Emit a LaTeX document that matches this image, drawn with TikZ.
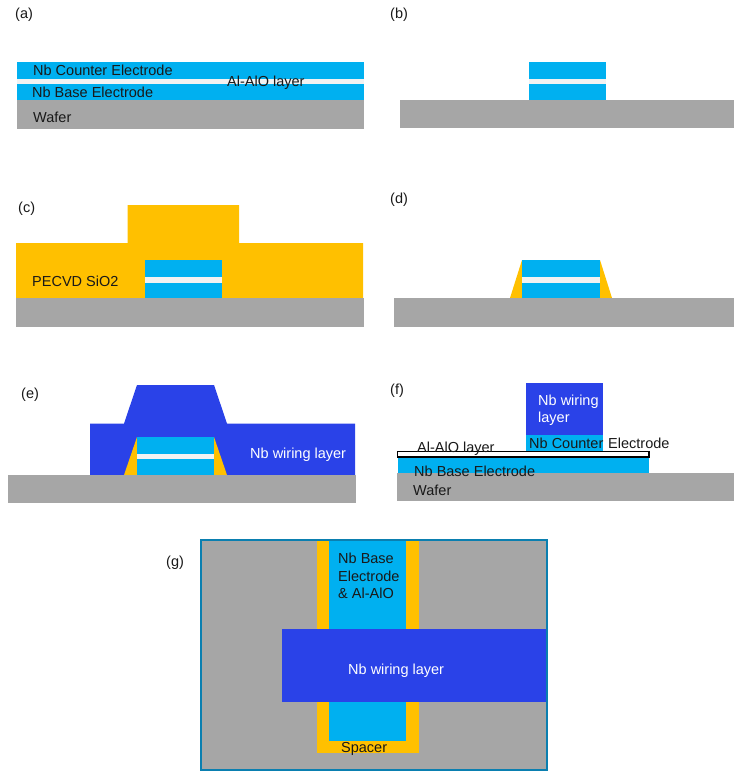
\documentclass[tikz,border=0pt]{standalone}
\usepackage{fontspec}
\setmainfont{Liberation Sans}
\definecolor{nbblue}{HTML}{00B0F0}
\definecolor{waferg}{HTML}{A6A6A6}
\definecolor{sioorange}{HTML}{FFC000}
\definecolor{wiring}{HTML}{2A42E8}
\definecolor{aloxw}{HTML}{F2F2F2}
\definecolor{edgeb}{HTML}{0A7FB0}
\tikzset{
  nb/.style={fill=nbblue},
  wafer/.style={fill=waferg},
  sio/.style={fill=sioorange},
  wire/.style={fill=wiring},
  alox/.style={fill=aloxw},
  lab/.style={anchor=base west, inner sep=0pt, font=\fontsize{14.5}{14.5}\selectfont, text=black!90},
  wlab/.style={anchor=base west, inner sep=0pt, font=\fontsize{14.5}{14.5}\selectfont, text=white}
}
\begin{document}
\begin{tikzpicture}[x=1pt,y=-1pt]
\useasboundingbox (0,0) rectangle (734,771);

\fill[nb] (17,62) rectangle (364,79);
\fill[alox] (17,79) rectangle (364,84);
\fill[nb] (17,84) rectangle (364,100);
\fill[wafer] (17,100) rectangle (364,129);
\node[lab] (tagA) at (15,18) {(a)};
\node[lab] (counterA) at (33,75) {Nb Counter Electrode};
\node[lab] (aloxA) at (227,86) {Al-AlO layer};
\node[lab] (baseA) at (32,97) {Nb Base Electrode};
\node[lab] (waferA) at (33,122) {Wafer};

\fill[nb] (528.5,62) rectangle (605.5,79);
\fill[alox] (528.5,79) rectangle (605.5,84);
\fill[nb] (528.5,84) rectangle (605.5,100);
\fill[wafer] (400,100) rectangle (734,128);
\node[lab] (tagB) at (390,18) {(b)};

\fill[sio] (16,243) -- (127.5,243) -- (127.5,205) -- (239,205) -- (239,243) -- (363,243) -- (363,298) -- (16,298) -- cycle;
\fill[nb] (145,260) rectangle (222,277);
\fill[alox] (145,277) rectangle (222,283);
\fill[nb] (145,283) rectangle (222,298);
\fill[wafer] (16,298) rectangle (364,327);
\node[lab] (tagC) at (18,212) {(c)};
\node[lab] (sioC) at (32,286) {PECVD SiO2};

\fill[sio] (510,298) -- (522,260) -- (522,298) -- cycle;
\fill[sio] (600,260) -- (612,298) -- (600,298) -- cycle;
\fill[nb] (522,260) rectangle (600,277);
\fill[alox] (522,277) rectangle (600,283);
\fill[nb] (522,283) rectangle (600,298);
\fill[wafer] (394,298) rectangle (734,327);
\node[lab] (tagD) at (390,203) {(d)};

\fill[wire] (90,423.5) -- (124,423.5) -- (137,385) -- (214,385) -- (227,423.5) -- (355,423.5) -- (355,475) -- (90,475) -- cycle;
\fill[sio] (124,475) -- (137,437) -- (137,475) -- cycle;
\fill[sio] (214,437) -- (227,475) -- (214,475) -- cycle;
\fill[nb] (137,437) rectangle (214,453.5);
\fill[alox] (137,453.5) rectangle (214,459);
\fill[nb] (137,459) rectangle (214,475);
\fill[wafer] (8,475) rectangle (356,503);
\node[lab] (tagE) at (21,398) {(e)};
\node[wlab] (wireE) at (250,458) {Nb wiring layer};

\fill[wire] (525.5,383) rectangle (602.5,435);
\fill[nb] (525.5,435) rectangle (602.5,451);
\fill[nb] (397.5,457) rectangle (649,473);
\fill[wafer] (397,473) rectangle (734,501);
\draw[line width=1.3pt,fill=white] (397.5,451.5) rectangle (649,457);
\node[lab] (tagF) at (390,394) {(f)};
\node[wlab] (wireF1) at (538,405) {Nb wiring};
\node[wlab] (wireF2) at (538,422) {layer};
\node[lab] (counterF) at (529,448) {Nb Counter};
\node[lab] (electF) at (608,448) {Electrode};
\node[lab] (aloxF) at (417,452) {Al-AlO layer};
\node[lab] (baseF) at (414,476) {Nb Base Electrode};
\node[lab] (waferF) at (413,495) {Wafer};

\fill[sio] (316.7,539.5) rectangle (419,752.7);
\draw[draw=edgeb,line width=1.8pt,wafer] (200.9,539.8) rectangle (547.2,769.8);
\fill[sio] (316.7,540.7) rectangle (419,752.7);
\fill[nb] (329,540.7) rectangle (406,740.5);
\fill[wire] (282,629) rectangle (546.3,702);
\node[lab] (tagG) at (166,566) {(g)};
\node[lab] (baseG1) at (338,563) {Nb Base};
\node[lab] (baseG2) at (338,581) {Electrode};
\node[lab] (baseG3) at (338,598) {\& Al-AlO};
\node[wlab] (wireG) at (348,674) {Nb wiring layer};
\node[lab] (spacerG) at (341,752) {Spacer};
\end{tikzpicture}
\end{document}
